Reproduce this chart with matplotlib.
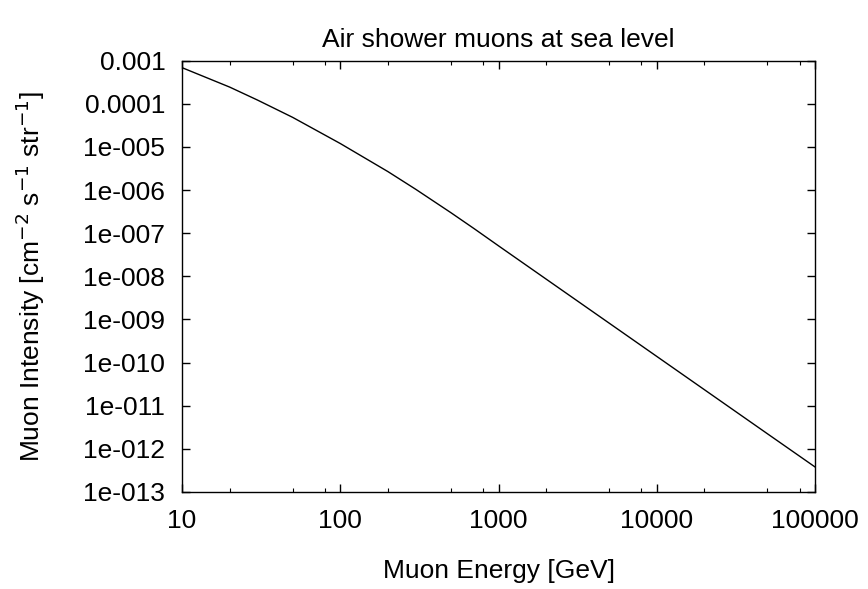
import matplotlib
matplotlib.use("Agg")
import matplotlib.pyplot as plt
from matplotlib.ticker import FixedLocator, NullLocator, NullFormatter

plt.rcParams['font.family'] = ['Liberation Sans', 'DejaVu Sans']

# muon energy [GeV] and intensity
energy = [10, 20, 30, 50, 100, 200, 300, 500, 700, 1000,
          2000, 5000, 10000, 20000, 50000, 100000]
intensity = [6.89e-4, 2.44e-4, 1.22e-4, 4.85e-5, 1.2e-5, 2.68e-6, 1.04e-6,
             2.99e-7, 1.28e-7, 5.09e-8, 8.61e-9, 8.22e-10, 1.39e-10,
             2.35e-11, 2.24e-12, 3.8e-13]

x_ticks = [10, 100, 1000, 10000, 100000]
x_labels = ["10", "100", "1000", "10000", "100000"]
y_ticks = [1e-3, 1e-4, 1e-5, 1e-6, 1e-7, 1e-8, 1e-9, 1e-10, 1e-11, 1e-12, 1e-13]
y_labels = ["0.001", "0.0001", "1e-005", "1e-006", "1e-007", "1e-008",
            "1e-009", "1e-010", "1e-011", "1e-012", "1e-013"]
x_minor = [m * 10 ** d for d in range(1, 5) for m in (2, 5, 8)]

fig = plt.figure(figsize=(8.68, 5.89), dpi=100)
ax = fig.add_axes([0.2097, 0.1647, 0.7293, 0.7323])

ax.plot(energy, intensity, color="black", linewidth=1.0)
ax.set_xscale("log")
ax.set_yscale("log")
ax.set_xlim(10, 100000)
ax.set_ylim(1e-13, 1e-3)

ax.xaxis.set_major_locator(FixedLocator(x_ticks))
ax.set_xticklabels(x_labels)
ax.xaxis.set_minor_locator(FixedLocator(x_minor))
ax.xaxis.set_minor_formatter(NullFormatter())
ax.yaxis.set_major_locator(FixedLocator(y_ticks))
ax.set_yticklabels(y_labels)
ax.yaxis.set_minor_locator(NullLocator())

ax.tick_params(which="major", direction="in", length=6, width=1.0,
               top=True, right=True, labelsize=19, pad=12)
ax.tick_params(which="minor", direction="in", length=3, width=0.8,
               top=True, right=True)
for s in ax.spines.values():
    s.set_linewidth(1.0)

ax.set_title("Air shower muons at sea level", fontsize=19, pad=10)
ax.set_xlabel("Muon Energy [GeV]", fontsize=19, labelpad=19)
ax.set_ylabel("Muon Intensity [cm$^{-2}$ s$^{-1}$ str$^{-1}$]", fontsize=19, labelpad=26)

fig.savefig("out.png", dpi=100)
